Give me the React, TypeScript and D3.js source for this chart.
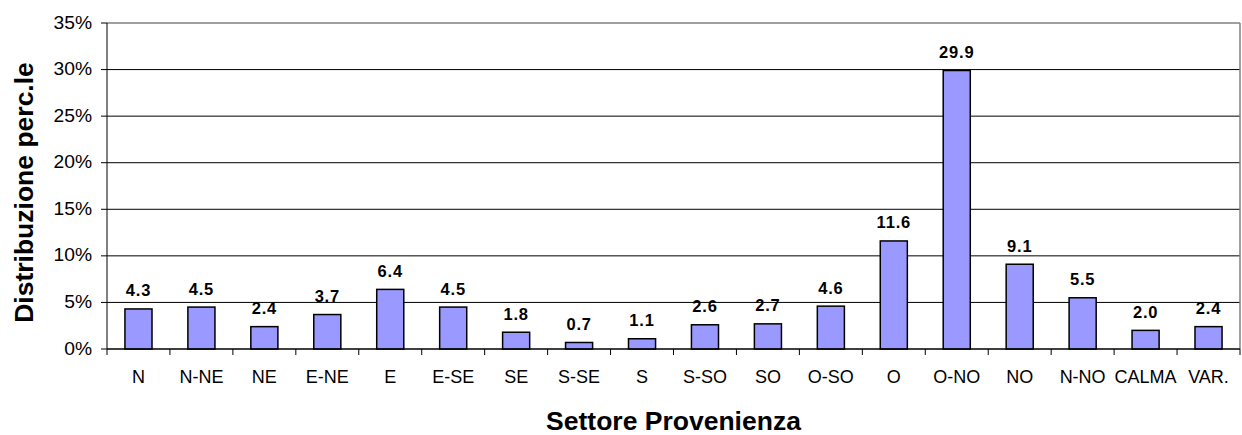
import React from "react";
import * as d3 from "d3";

const categories = ["N", "N-NE", "NE", "E-NE", "E", "E-SE", "SE", "S-SE", "S", "S-SO", "SO", "O-SO", "O", "O-NO", "NO", "N-NO", "CALMA", "VAR."];
const values = [4.3, 4.5, 2.4, 3.7, 6.4, 4.5, 1.8, 0.7, 1.1, 2.6, 2.7, 4.6, 11.6, 29.9, 9.1, 5.5, 2.0, 2.4];
const yTicks = [0, 5, 10, 15, 20, 25, 30, 35];
const xTitle = "Settore Provenienza";
const yTitle = "Distribuzione perc.le";

const W = 1242;
const H = 435;
const left = 107;
const right = 1240;
const top = 23;
const bottom = 349;
const FONT = "'Liberation Sans', Arial, sans-serif";

export default function App() {
  const x = d3.scaleBand<string>().domain(categories).range([left, right]).paddingInner(0.57).paddingOuter(0.285);
  const y = d3.scaleLinear().domain([0, 35]).range([bottom, top]);
  const step = x.step();
  const boundaries = d3.range(categories.length + 1).map((i) => left + i * step);

  return (
    <svg width={W} height={H} style={{ position: "absolute", left: 0, top: 0, background: "#fff" }} fontFamily={FONT}>
      <rect x={0} y={0} width={W} height={H} fill="#fff" />
      {yTicks.map((t) => (
        <line key={"g" + t} x1={left} x2={right} y1={y(t)} y2={y(t)} stroke={t === 35 ? "#808080" : "#000"} strokeWidth={t === 35 ? 1.5 : 1} />
      ))}
      <line x1={right} x2={right} y1={top} y2={bottom} stroke="#808080" strokeWidth={1.5} />
      {values.map((v, i) => (
        <rect key={"b" + i} x={x(categories[i])!} y={y(v)} width={x.bandwidth()} height={bottom - y(v)} fill="#9999FF" stroke="#000" strokeWidth={1.5} />
      ))}
      <line x1={left} x2={left} y1={top} y2={bottom} stroke="#000" strokeWidth={1} />
      <line x1={left} x2={right} y1={bottom} y2={bottom} stroke="#000" strokeWidth={1} />
      {yTicks.map((t) => (
        <g key={"yt" + t}>
          <line x1={left - 6} x2={left} y1={y(t)} y2={y(t)} stroke="#000" />
          <text transform={`translate(92,${y(t) + 5.5}) scale(1.1,1)`} textAnchor="end" fontSize={17.5} fill="#000">
            {t + "%"}
          </text>
        </g>
      ))}
      {boundaries.map((b, i) => (
        <line key={"xt" + i} x1={b} x2={b} y1={bottom} y2={bottom + 6} stroke="#000" />
      ))}
      {categories.map((c) => (
        <text key={"xl" + c} x={x(c)! + x.bandwidth() / 2} y={383} textAnchor="middle" fontSize={18} fill="#000">
          {c}
        </text>
      ))}
      {values.map((v, i) => (
        <text key={"vl" + i} x={x(categories[i])! + x.bandwidth() / 2} y={y(v) - 12.5} textAnchor="middle" fontSize={16.5} fontWeight="bold" letterSpacing={0.8} fill="#000">
          {v.toFixed(1)}
        </text>
      ))}
      <text x={(left + right) / 2} y={430} textAnchor="middle" fontSize={26.5} fontWeight="bold" fill="#000">
        {xTitle}
      </text>
      <text transform={`translate(33,192.5) rotate(-90)`} textAnchor="middle" fontSize={26.5} fontWeight="bold" fill="#000">
        {yTitle}
      </text>
    </svg>
  );
}
